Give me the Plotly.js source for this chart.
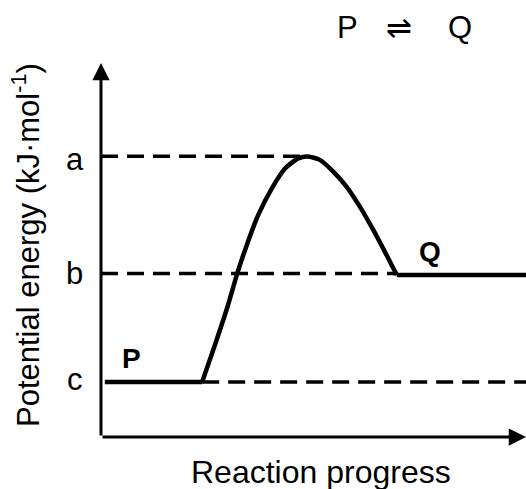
<!DOCTYPE html>
<html>
<head>
<meta charset="utf-8">
<script src="https://cdn.plot.ly/plotly-3.0.1.min.js"></script>
<style>html,body{margin:0;padding:0;background:#fff;}#chart{width:526px;height:489px;}</style>
</head>
<body>
<div id="chart"></div>
<script>
// Energy levels (arbitrary units on the potential-energy axis)
const levelNames = ["a", "b", "c"];
const levelValues = [7.51, 4.37, 1.47];
// Dashed guide line extents along reaction progress for each level
const levelStart = [0, 0, 2.38];
const levelEnd = [4.75, 6.96, 10];

// Reaction profile: reaction progress vs potential energy
const progress = [0.09, 2.38, 2.68, 2.99, 3.21, 3.43, 3.70, 4.02, 4.33, 4.64, 4.87, 5.15, 5.47, 5.78, 6.09, 6.41, 6.68, 6.96, 10];
const energy   = [1.47, 1.47, 2.46, 3.53, 4.39, 5.13, 5.94, 6.65, 7.18, 7.45, 7.50, 7.41, 7.09, 6.69, 6.16, 5.53, 4.95, 4.33, 4.33];

// Species labels
const species = ["P", "Q"];
const speciesX = [0.71, 7.74];
const speciesY = [2.11, 4.95];

// Axis extents (origin and arrow tips)
const axisMax = 10;

const FONT = "Liberation Sans, Arial, sans-serif";

const traces = [];
for (let i = 0; i < levelNames.length; i++) {
  traces.push({
    x: [levelStart[i], levelEnd[i]],
    y: [levelValues[i], levelValues[i]],
    mode: "lines",
    line: {color: "#000", width: 3.5, dash: "17px,9px"},
    hoverinfo: "skip",
    showlegend: false
  });
}
// profile: flat reactant, smooth barrier, flat product
const n = progress.length;
const segments = [[0, 2, "linear"], [1, n - 1, "spline"], [n - 2, n, "linear"]];
for (const [s, e, shape] of segments) {
  traces.push({
    x: progress.slice(s, e), y: energy.slice(s, e),
    mode: "lines",
    line: {color: "#000", width: 4.5, shape: shape, smoothing: 0.6},
    showlegend: false
  });
}

const annotations = [];
// axes drawn as arrows from the origin
annotations.push({x: axisMax, y: 0, ax: 0, ay: 0, xref: "x", yref: "y", axref: "x", ayref: "y",
  text: "", showarrow: true, arrowhead: 2, arrowsize: 1.15, arrowwidth: 3, arrowcolor: "#000", standoff: 0});
annotations.push({x: 0, y: axisMax, ax: 0, ay: 0, xref: "x", yref: "y", axref: "x", ayref: "y",
  text: "", showarrow: true, arrowhead: 2, arrowsize: 1.15, arrowwidth: 3, arrowcolor: "#000", standoff: 0});
// level labels
const levelShift = [-3, 0, 3];
for (let i = 0; i < levelNames.length; i++) {
  annotations.push({x: -0.0524, xref: "paper", y: levelValues[i], yref: "y", yshift: levelShift[i],
    text: levelNames[i], showarrow: false, xanchor: "center", yanchor: "middle",
    font: {family: FONT, size: 31, color: "#000"}});
}
// species labels
for (let i = 0; i < species.length; i++) {
  annotations.push({x: speciesX[i], y: speciesY[i], xref: "x", yref: "y",
    text: "<b>" + species[i] + "</b>", showarrow: false, xanchor: "center", yanchor: "middle",
    font: {family: FONT, size: 28, color: "#000"}});
}
// equation title
const eqParts = ["P", "⇌", "Q"];
const eqX = [0.584, 0.704, 0.847];
for (let i = 0; i < eqParts.length; i++) {
  annotations.push({x: eqX[i], y: 1.0926, xref: "paper", yref: "paper", text: eqParts[i],
    showarrow: false, xanchor: "center", yanchor: "middle",
    font: {family: FONT, size: 31, color: "#000"}});
}
// axis titles
annotations.push({x: -0.1655, y: 0.5185, xref: "paper", yref: "paper", textangle: -90,
  text: "Potential energy (kJ·mol<sup>-1</sup>)", showarrow: false, xanchor: "center", yanchor: "middle",
  font: {family: FONT, size: 31, color: "#000"}});
annotations.push({x: 0.523, y: -0.082, xref: "paper", yref: "paper",
  text: "Reaction progress", showarrow: false, xanchor: "center", yanchor: "middle",
  font: {family: FONT, size: 32, color: "#000"}});

const layout = {
  width: 526, height: 489,
  margin: {l: 97, r: 0, t: 63, b: 48, pad: 0},
  paper_bgcolor: "#fff", plot_bgcolor: "#fff",
  showlegend: false,
  xaxis: {range: [-0.094, 10], showgrid: false, zeroline: false, showline: false, showticklabels: false, ticks: "", fixedrange: true},
  yaxis: {range: [-0.107, 10], showgrid: false, zeroline: false, showline: false, showticklabels: false, ticks: "", fixedrange: true},
  annotations: annotations,
  font: {family: FONT, color: "#000"}
};

Plotly.newPlot("chart", traces, layout, {displayModeBar: false, staticPlot: true});
</script>
</body>
</html>
